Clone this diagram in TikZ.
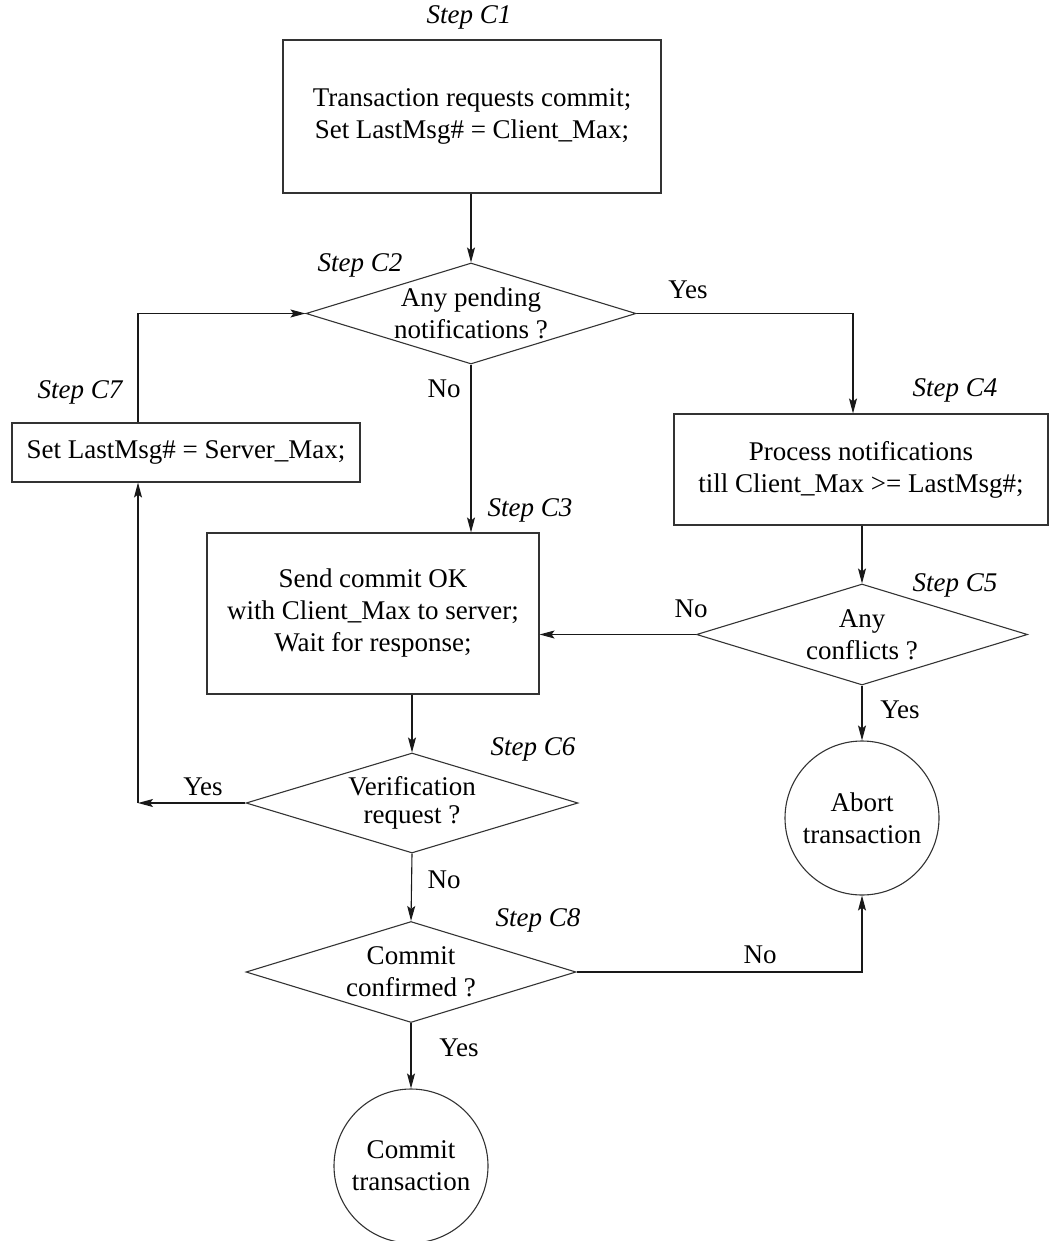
\documentclass[tikz,border=0pt]{standalone}
\usepackage{fontspec}
\setmainfont{Liberation Serif}
\usetikzlibrary{shapes.geometric,arrows.meta}

\begin{document}
\begin{tikzpicture}[x=1pt,y=-1pt,
    every node/.style={font=\fontsize{27}{32}\selectfont},
    line/.style={draw=black!90, line width=1.1pt},
    flow/.style={line, -{Stealth[length=15pt,width=8pt,inset=3pt]}},
    stepbox/.style={draw=black!80, line width=1.1pt, rectangle, align=center, inner sep=0pt},
    decision/.style={draw=black!80, line width=1.1pt, diamond, inner sep=0pt},
    qtext/.style={align=center, inner sep=0pt},
    terminal/.style={draw=black!80, line width=1.1pt, circle, inner sep=0pt, minimum size=154pt, align=center},
    steplabel/.style={font=\fontsize{27}{32}\selectfont\itshape, inner sep=0pt},
    answer/.style={inner sep=0pt}]

  \useasboundingbox (0,0) rectangle (1060,1241);

  % process boxes
  \node[stepbox, minimum width=378pt, minimum height=153pt] (c1) at (472,116.5)
    {Transaction requests commit;\\ Set LastMsg\# = Client\_Max;};
  \node[stepbox, minimum width=374pt, minimum height=111pt] (c4) at (861,469.5)
    {Process notifications\\till Client\_Max >= LastMsg\#;};
  \node[stepbox, minimum width=332pt, minimum height=161pt] (c3) at (373,613.5)
    {Send commit OK\\ with Client\_Max to server;\\Wait for response;};
  \node[stepbox, minimum width=348pt, minimum height=59pt] (c7) at (186,452.5)
    {Set LastMsg\# = Server\_Max;};

  % decisions
  \node[decision, minimum width=330pt, minimum height=101pt] (c2) at (471,313.5) {};
  \node[qtext] at (c2) {Any pending\\notifications ?};
  \node[decision, minimum width=331pt, minimum height=101pt] (c5) at (862,634.5) {};
  \node[qtext] at (c5) {Any\\conflicts ?};
  \node[decision, minimum width=332pt, minimum height=100pt] (c6) at (412,803) {};
  \node[qtext] at (c6) {Verification\\[-4pt]request ?};
  \node[decision, minimum width=330pt, minimum height=101pt] (c8) at (411,972) {};
  \node[qtext] at (c8) {Commit\\confirmed ?};

  % end states
  \node[terminal] (abort) at (862,818) {Abort\\transaction};
  \node[terminal] (commit) at (411,1166) {Commit\\transaction};

  % step labels
  \node[steplabel] at (469,17) {Step C1};
  \node[steplabel] at (360,265) {Step C2};
  \node[steplabel] at (530,510) {Step C3};
  \node[steplabel] at (955,390) {Step C4};
  \node[steplabel] at (955,585) {Step C5};
  \node[steplabel] at (533,749) {Step C6};
  \node[steplabel] at (80,392) {Step C7};
  \node[steplabel] at (538,920) {Step C8};

  % branch answers
  \node[answer] at (688,290) {Yes};
  \node[answer] at (444,389) {No};
  \node[answer] at (691,609) {No};
  \node[answer] at (900,710) {Yes};
  \node[answer] at (203,787) {Yes};
  \node[answer] at (444,880) {No};
  \node[answer] at (760,955) {No};
  \node[answer] at (459,1048) {Yes};

  % connectors
  \coordinate (loop) at (138,803);
  \draw[flow] (c1.south -| c2.north) -- (c2.north);
  \draw[flow] (c2.east) -| ([xshift=-8pt]c4.north);
  \draw[flow] (c2.south) -- (c2.south |- c3.north);
  \draw[flow] (c4.south -| c5.north) -- (c5.north);
  \draw[flow] (c5.west) -- (c5.west -| c3.east);
  \draw[flow] (c5.south) -- (abort.north);
  \draw[flow] (c3.south -| c6.north) -- (c6.north);
  \draw[flow] (c6.west) -- (loop);
  \draw[flow] (loop) -- (loop |- c7.south);
  \draw[flow] (loop |- c7.north) |- (c2.west);
  \draw[flow] (c6.south) -- (c8.north);
  \draw[flow] (c8.east) -| (abort.south);
  \draw[flow] (c8.south) -- (commit.north);
\end{tikzpicture}
\end{document}
